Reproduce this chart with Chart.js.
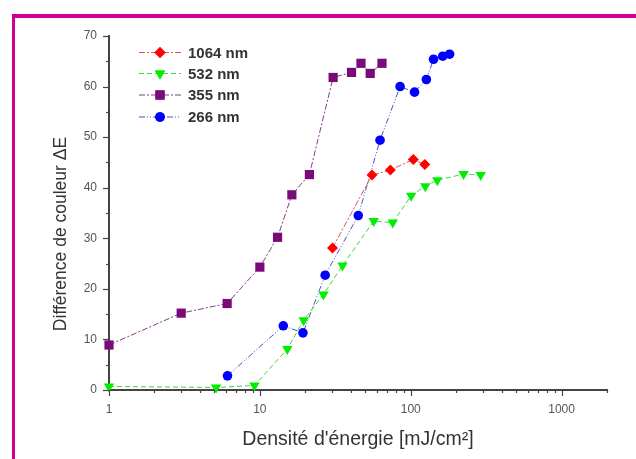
<!DOCTYPE html>
<html>
<head>
<meta charset="utf-8">
<script src="https://cdn.jsdelivr.net/npm/chart.js@4/dist/chart.umd.min.js"></script>
<style>
  html, body { margin: 0; padding: 0; background: #fff; overflow: hidden; }
  #wrap { position: relative; width: 636px; height: 459px; }
  #frame { position: absolute; left: 12px; top: 14px; width: 700px; height: 600px;
           border-left: 3px solid #cc0099; border-top: 4px solid #cc0099; box-sizing: border-box; }
  canvas { position: absolute; left: 0; top: 0; }
</style>
</head>
<body>
<div id="wrap">
  <div id="frame"></div>
  <canvas id="c" width="636" height="459"></canvas>
</div>
<script>
// ---- data ----
const labels = ['1064 nm', '532 nm', '355 nm', '266 nm'];

const x1064 = [30.3, 55.4, 73.3, 104, 124];
const y1064 = [28.1, 42.5, 43.5, 45.6, 44.6];

const x532 = [1, 5.13, 9.2, 15.2, 19.5, 26.4, 35.3, 56.8, 76, 100.7, 124.8, 150, 224, 291];
const y532 = [0.7, 0.5, 0.9, 8.1, 13.8, 18.9, 24.6, 33.4, 33.1, 38.4, 40.3, 41.5, 42.7, 42.5];

const x355 = [1, 3.01, 6.07, 10.0, 13.1, 16.3, 21.3, 30.6, 40.5, 46.8, 53.9, 64.5];
const y355 = [8.9, 15.2, 17.1, 24.3, 30.2, 38.6, 42.6, 61.8, 62.8, 64.6, 62.6, 64.6];

const x266 = [6.1, 14.3, 19.3, 27.1, 44.9, 62.6, 85, 106, 127, 141.7, 163, 181];
const y266 = [2.8, 12.7, 11.3, 22.7, 34.5, 49.4, 60.0, 58.9, 61.4, 65.4, 66.0, 66.4];

const xMajorTicks = [1, 10, 100, 1000];
const yMin = 0, yMax = 70, yStep = 10;
const xMin = 1, xMax = 2000;

const xTitle = "Densité d'énergie [mJ/cm²]";
const yTitle = "Différence de couleur ΔE";

// ---- build ----
function pts(xs, ys) { return xs.map((x, i) => ({ x: x, y: ys[i] })); }

const styles = [
  { color: '#ff0000', line: 'rgba(220,60,60,0.9)',  style: 'rectRot',  radius: 5.5, rot: 0,   dash: [6, 2, 2, 2] },
  { color: '#00ee00', line: 'rgba(40,210,40,0.9)',  style: 'triangle', radius: 6,   rot: 180, dash: [5, 3] },
  { color: '#7a0a7a', line: 'rgba(120,40,120,0.9)', style: 'rect',     radius: 6.5, rot: 0,   dash: [6, 2, 2, 2] },
  { color: '#0000ff', line: 'rgba(60,60,190,0.9)',  style: 'circle',   radius: 4.8, rot: 0,   dash: [6, 2, 1, 2, 1, 2] }
];
const series = [pts(x1064, y1064), pts(x532, y532), pts(x355, y355), pts(x266, y266)];

const datasets = series.map((d, i) => ({
  label: labels[i],
  data: d,
  borderColor: styles[i].line,
  borderWidth: 1,
  borderDash: styles[i].dash,
  pointStyle: styles[i].style,
  pointRotation: styles[i].rot,
  pointRadius: styles[i].radius,
  pointBackgroundColor: styles[i].color,
  pointBorderColor: styles[i].color,
  pointBorderWidth: 0,
  fill: false,
  tension: 0,
  clip: false
}));

const FONT = '"Liberation Sans", Arial, sans-serif';

const decor = {
  id: 'decor',
  afterDraw(chart) {
    const ctx = chart.ctx;
    const xs = chart.scales.x, ys = chart.scales.y;
    const area = chart.chartArea;
    ctx.save();
    ctx.strokeStyle = '#444';
    ctx.lineWidth = 1.2;
    // y ticks
    for (let v = yMin; v <= yMax; v += yStep / 2) {
      const py = Math.round(ys.getPixelForValue(v)) + 0.5;
      const major = (v % yStep) === 0;
      ctx.beginPath();
      ctx.moveTo(area.left, py);
      ctx.lineTo(area.left - (major ? 6 : 3), py);
      ctx.stroke();
    }
    // x ticks
    for (let k = 0; k <= 3; k++) {
      for (let m = 1; m <= 9; m++) {
        const v = m * Math.pow(10, k);
        if (v < xMin || v > xMax) continue;
        const px = Math.round(xs.getPixelForValue(v)) + 0.5;
        ctx.beginPath();
        ctx.moveTo(px, area.bottom);
        ctx.lineTo(px, area.bottom + (m === 1 ? 6 : 3));
        ctx.stroke();
      }
    }
    // axis titles
    ctx.fillStyle = '#333';
    ctx.font = '19.5px ' + FONT;
    ctx.textAlign = 'center';
    ctx.textBaseline = 'middle';
    ctx.fillText(xTitle, (area.left + area.right) / 2, 440);
    ctx.save();
    ctx.translate(61, 234);
    ctx.rotate(-Math.PI / 2);
    ctx.font = '17.5px ' + FONT;
    ctx.fillText(yTitle, 0, 0);
    ctx.restore();

    // legend
    const legY = [52.5, 73.5, 95, 117];
    ctx.font = 'bold 15px ' + FONT;
    ctx.textAlign = 'left';
    chart.data.datasets.forEach((ds, i) => {
      const y = legY[i];
      ctx.save();
      ctx.strokeStyle = ds.borderColor;
      ctx.lineWidth = 1;
      ctx.setLineDash(ds.borderDash);
      ctx.beginPath();
      ctx.moveTo(139, y);
      ctx.lineTo(181, y);
      ctx.stroke();
      ctx.restore();
      ctx.fillStyle = ds.pointBackgroundColor;
      Chart.helpers.drawPoint(ctx, {
        pointStyle: ds.pointStyle,
        rotation: ds.pointRotation,
        radius: ds.pointRadius,
        borderWidth: 0
      }, 160, y);
      ctx.fill();
      ctx.fillStyle = '#333';
      ctx.fillText(ds.label, 188, y + 1);
    });
    ctx.restore();
  }
};

new Chart(document.getElementById('c'), {
  type: 'line',
  data: { datasets: datasets },
  options: {
    responsive: false,
    animation: false,
    devicePixelRatio: 1,
    layout: { padding: { left: 0, right: 29, top: 36, bottom: 0 } },
    plugins: { legend: { display: false }, tooltip: { enabled: false } },
    scales: {
      x: {
        type: 'logarithmic',
        min: xMin, max: xMax,
        afterBuildTicks(scale) { scale.ticks = xMajorTicks.map(v => ({ value: v })); },
        afterFit(scale) { scale.height = 69; },
        ticks: {
          autoSkip: false, maxRotation: 0, padding: 12,
          color: '#555', font: { family: FONT, size: 12 },
          callback: (v) => String(v)
        },
        grid: { display: true, drawOnChartArea: false, drawTicks: false },
        border: { display: true, color: '#444', width: 2 }
      },
      y: {
        type: 'linear',
        min: yMin, max: yMax,
        ticks: {
          stepSize: yStep, padding: 12,
          color: '#555', font: { family: FONT, size: 12 }
        },
        afterFit(scale) { scale.width = 109; },
        grid: { display: true, drawOnChartArea: false, drawTicks: false },
        border: { display: true, color: '#444', width: 2 }
      }
    }
  },
  plugins: [decor]
});
</script>
</body>
</html>
